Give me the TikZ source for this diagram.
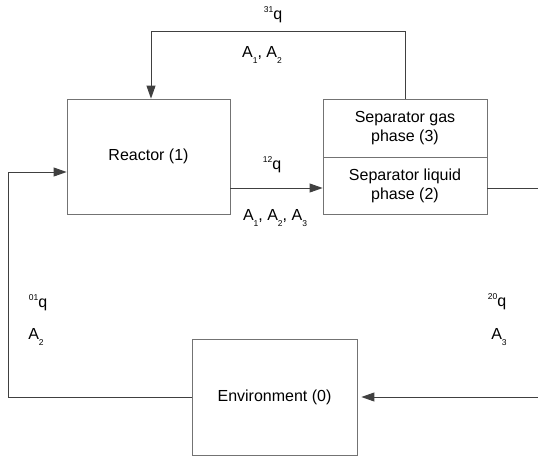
\documentclass[tikz,border=0pt]{standalone}
\usepackage{fontspec}
\setmainfont{Liberation Sans}
\usetikzlibrary{arrows.meta,calc}

\newcommand{\subidx}[1]{\raisebox{-0.7ex}{\fontsize{8.5}{10}\selectfont #1}}
\newcommand{\supidx}[1]{\raisebox{0.8ex}{\fontsize{8.5}{10}\selectfont #1}}

\tikzset{
  unit/.style={draw=black!55, line width=0.8pt, inner sep=0pt, align=center,
    font=\fontsize{16}{19}\selectfont},
  flow/.style={draw=black!75, line width=0.9pt},
  arr/.style={flow, -{Triangle[length=13pt,width=9pt]}},
  lbl/.style={inner sep=0pt, font=\fontsize{16}{19}\selectfont}
}

\begin{document}
\begin{tikzpicture}[x=1pt,y=-1pt]
		\useasboundingbox (0,0) rectangle (538,458);
		
		% units
		\node[unit, minimum width=163pt, minimum height=115pt] (reactor) at (148.5,156.5) {Reactor (1)};
		\node[unit, minimum width=164pt, minimum height=58pt] (sepgas) at (405,128) {Separator gas\\phase (3)};
		\node[unit, minimum width=164pt, minimum height=57pt] (sepliq) at (405,185.5) {Separator liquid\\phase (2)};
		\node[unit, minimum width=165pt, minimum height=116pt] (env) at (274.5,397) {Environment (0)};
		
		% free ends
		\coordinate (loopL) at (151,31);
		\coordinate (inL) at (8,172);
		\coordinate (outR) at (538,188);
		\coordinate (inR) at (538,397);
		
		% streams
		\draw[arr] (sepgas.north) |- (loopL) -- (loopL |- reactor.north);
		\draw[arr] (reactor.east |- outR) -- (sepliq.west |- outR);
		\draw[flow] (sepliq.east |- outR) -- (outR);
		\draw[arr, shorten >=4pt] (inR) -- (env.east);
		\draw[arr] (env.west) -| (inL) -- (inL -| reactor.west);
		
		% labels
		\node[lbl] (q31) at (273,15) {\supidx{31}q};
		\node[lbl] (a31) at (262,55) {A\subidx{1}, A\subidx{2}};
		\node[lbl] (q12) at (272,165) {\supidx{12}q};
		\node[lbl] (a12) at (275,218) {A\subidx{1}, A\subidx{2}, A\subidx{3}};
		\node[lbl] (q01) at (38,303) {\supidx{01}q};
		\node[lbl] (a01) at (36,337) {A\subidx{2}};
		\node[lbl] (q20) at (497,302) {\supidx{20}q};
		\node[lbl] (a20) at (499,337) {A\subidx{3}};
	\end{tikzpicture}
\end{document}
